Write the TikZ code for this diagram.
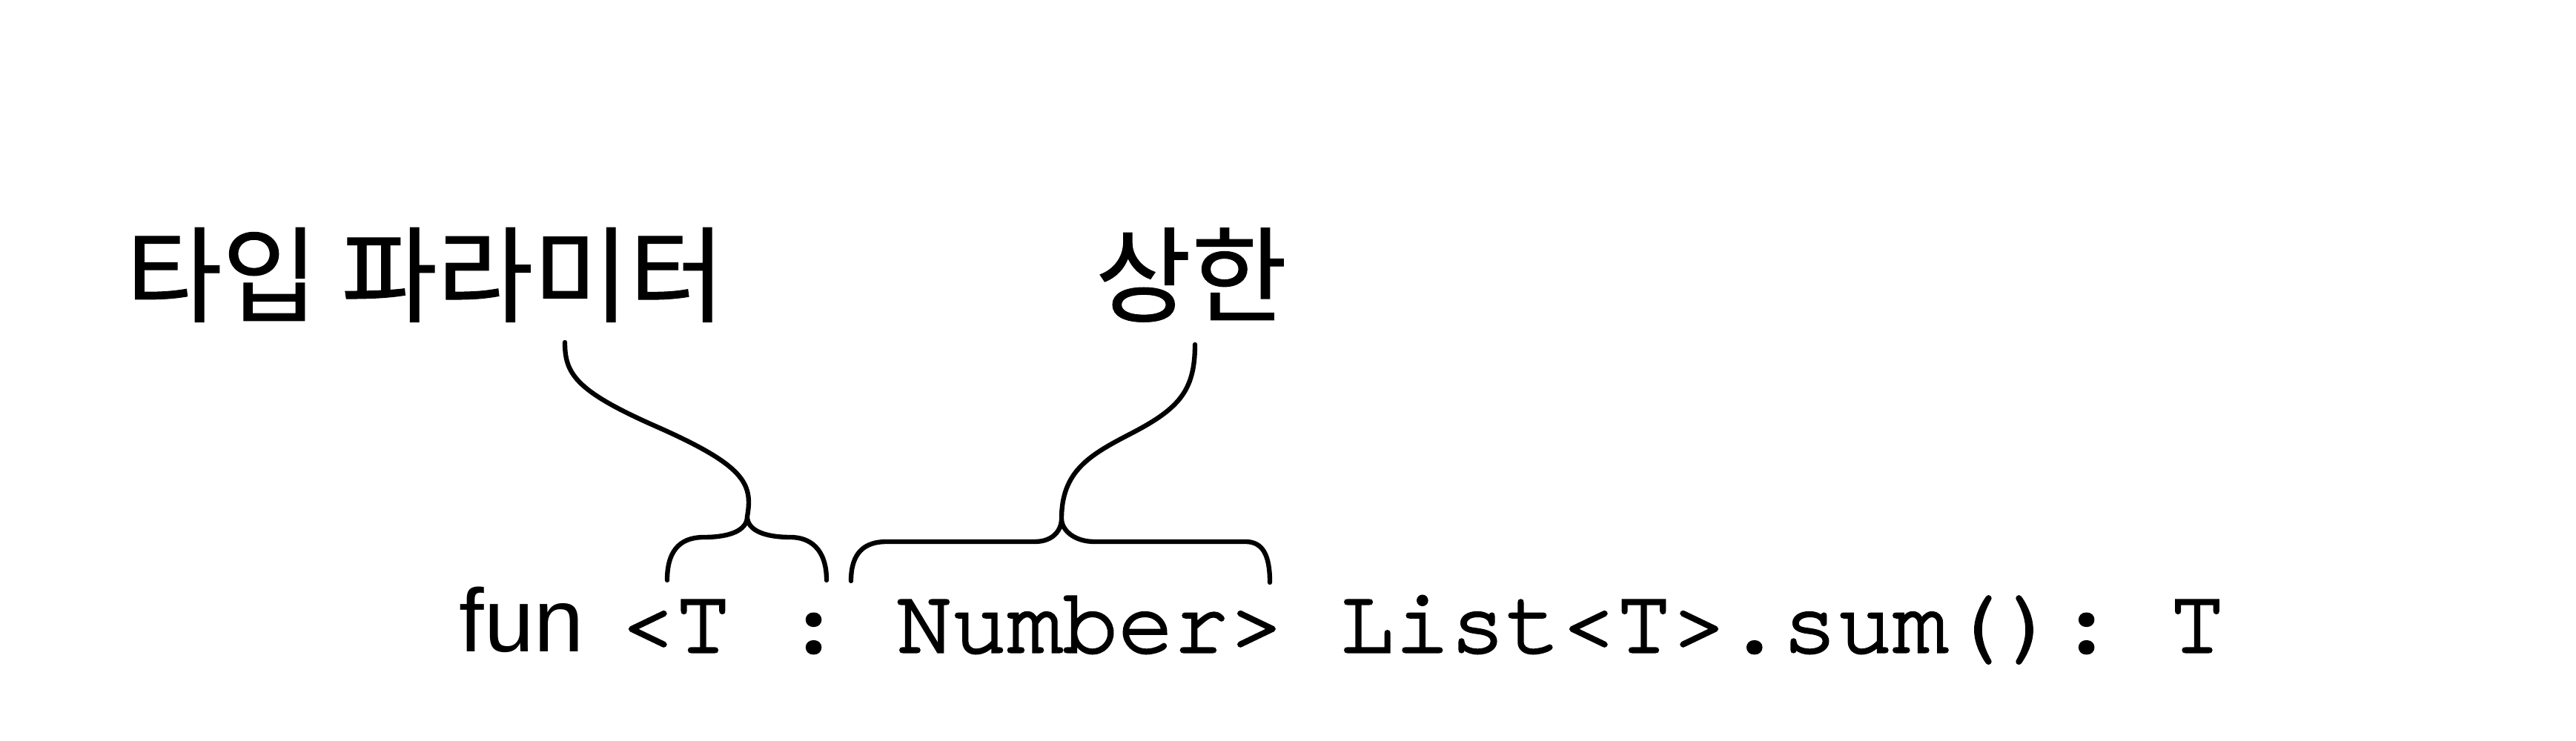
\documentclass[tikz,border=0pt]{standalone}
\usepackage{fontspec}
\setmainfont{Liberation Sans}
\newfontfamily\krfont{Noto Sans CJK KR}[FakeBold=0.8]
\newfontfamily\codefont{TeX Gyre Cursor}[FakeBold=2.5]
\usepackage{tikz}
\tikzset{
  kor/.style={inner sep=0pt, font=\krfont\fontsize{20}{22}\selectfont},
  kw/.style={inner sep=0pt, anchor=base west, font=\fontsize{17.2}{20}\selectfont},
  code/.style={inner sep=0pt, anchor=base west, font=\codefont\fontsize{17.7}{20}\selectfont\frenchspacing},
  brc/.style={line width=0.9pt, line cap=round}
}

\begin{document}
\begin{tikzpicture}
  \useasboundingbox (0,0) rectangle (17.375,5);
  % labels
  \node[kor] (tp) at (2.87,3.145) {타입 파라미터};
  \node[kor] (ub) at (8.035,3.145) {상한};
  % code line
  \node[kw] (fun) at (3.09,0.6) {fun};
  \node[code] (sig) at (4.175,0.6) {<T : Number> List<T>.sum(): T};
  % brace ends
  \coordinate (t1) at (3.81,2.69);
  \coordinate (k1) at (5.04,1.515);
  \coordinate (a1) at (4.50,1.085);
  \coordinate (b1) at (5.575,1.085);
  \coordinate (t2) at (8.06,2.675);
  \coordinate (k2) at (7.16,1.50);
  \coordinate (a2) at (5.74,1.08);
  \coordinate (b2) at (8.565,1.07);
  % brace under <T
  \draw[brc] (a1) .. controls (4.50,1.32) and (4.62,1.375) .. (4.75,1.375)
    .. controls (4.92,1.375) and (5.04,1.42) .. (k1)
    .. controls (5.04,1.42) and (5.16,1.375) .. (5.33,1.375)
    .. controls (5.46,1.375) and (5.575,1.30) .. (b1);
  \draw[brc] (k1) .. controls (5.08,1.74) and (5.02,1.86) .. (4.42,2.125)
    .. controls (3.88,2.363) and (3.81,2.48) .. (t1);
  % brace under Number>
  \draw[brc] (a2) .. controls (5.74,1.27) and (5.83,1.345) .. (5.98,1.345)
    -- (6.98,1.345) .. controls (7.10,1.345) and (7.16,1.42) .. (k2)
    .. controls (7.16,1.42) and (7.25,1.345) .. (7.38,1.345)
    -- (8.40,1.345) .. controls (8.52,1.345) and (8.565,1.25) .. (b2);
  \draw[brc] (k2) .. controls (7.16,1.82) and (7.35,1.93) .. (7.62,2.07)
    .. controls (7.95,2.24) and (8.06,2.36) .. (t2);
\end{tikzpicture}
\end{document}
